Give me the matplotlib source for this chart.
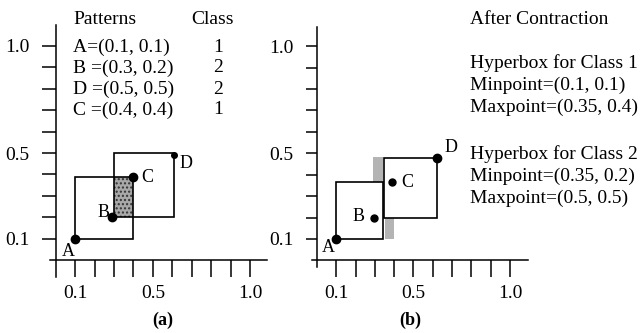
import matplotlib.pyplot as plt
from matplotlib.patches import Rectangle

plt.rcParams['font.family'] = ['Liberation Serif', 'DejaVu Serif']

# patterns table (panel a)
pattern_rows = ["A=(0.1, 0.1)", "B =(0.3, 0.2)", "D =(0.5, 0.5)", "C =(0.4, 0.4)"]
pattern_class = ["1", "2", "2", "1"]

# points as drawn in the sketch
names = ["A", "B", "C", "D"]
pts_a = [(0.1, 0.1), (0.29, 0.2), (0.4, 0.39), (0.61, 0.49)]
pts_b = [(0.1, 0.1), (0.297, 0.2), (0.39, 0.364), (0.62, 0.477)]

# hyperboxes (xmin, ymin, xmax, ymax)
boxes_a = [(0.1, 0.1, 0.4, 0.39), (0.3, 0.2, 0.61, 0.5)]
overlap_a = (0.3, 0.2, 0.4, 0.39)
boxes_b = [(0.1, 0.1, 0.344, 0.364), (0.347, 0.2, 0.62, 0.48)]
removed_b = [(0.292, 0.365, 0.341, 0.482), (0.35, 0.1, 0.40, 0.2)]

ticks = [0.1, 0.2, 0.3, 0.4, 0.5, 0.6, 0.7, 0.8, 0.9, 1.0]
tick_labels = ["0.1", "", "", "", "0.5", "", "", "", "", "1.0"]

info_lines = ["After Contraction", "Hyperbox for Class 1", "Minpoint=(0.1, 0.1)",
              "Maxpoint=(0.35, 0.4)", "Hyperbox for Class 2", "Minpoint=(0.35, 0.2)",
              "Maxpoint=(0.5, 0.5)"]
info_y = [20, 63, 85, 107, 154, 176, 198]

W, H = 640, 333
fig = plt.figure(figsize=(6.4, 3.33), dpi=100)
FS = 14


def px_rect(l, r, t, b):
    return [l / W, (H - b) / H, (r - l) / W, (b - t) / H]


def setup(ax, xlim, ylim, ylen):
    ax.set_xlim(*xlim)
    ax.set_ylim(*ylim)
    for s in ["top", "right"]:
        ax.spines[s].set_visible(False)
    for s in ["left", "bottom"]:
        ax.spines[s].set_position(("data", 0))
        ax.spines[s].set_linewidth(1.1)
    ax.set_xticks(ticks, tick_labels)
    ax.set_yticks(ticks, tick_labels)
    ax.tick_params(axis="x", direction="out", length=12, width=1.1, pad=6, labelsize=FS)
    ax.tick_params(axis="y", direction="out", length=ylen, width=1.1, pad=9, labelsize=FS)
    ax.patch.set_visible(False)


ax1 = fig.add_axes(px_rect(50, 267, 25, 277))
setup(ax1, (-0.030, 1.088), (-0.079, 1.098), 10)
ax2 = fig.add_axes(px_rect(311.7, 528, 27, 267))
setup(ax2, (-0.027, 1.093), (-0.031, 1.09), 8)

# panel a
ax1.add_patch(Rectangle((overlap_a[0], overlap_a[1]), overlap_a[2] - overlap_a[0],
                        overlap_a[3] - overlap_a[1], facecolor="#a8a8a8",
                        edgecolor="#333333", hatch="....", lw=0))
for x0, y0, x1, y1 in boxes_a:
    ax1.add_patch(Rectangle((x0, y0), x1 - x0, y1 - y0, fill=False, lw=1.2, ec="black"))
ms_a = [6, 6, 6, 4]
off_a = [(-5, -9.5), (-6.5, 3.5), (10, -1), (8.6, -5.8)]
for n, (x, y), m, o in zip(names, pts_a, ms_a, off_a):
    ax1.plot(x, y, "o", color="black", ms=m)
    ax1.annotate(n, (x, y), xytext=o, textcoords="offset points",
                 ha="center", va="center", fontsize=13)

# panel b
for x0, y0, x1, y1 in removed_b:
    ax2.add_patch(Rectangle((x0, y0), x1 - x0, y1 - y0, facecolor="#b4b4b4", lw=0))
for x0, y0, x1, y1 in boxes_b:
    ax2.add_patch(Rectangle((x0, y0), x1 - x0, y1 - y0, fill=False, lw=1.2, ec="black"))
ms_b = [6, 5, 5, 6]
off_b = [(-5.5, -6.5), (-11, 1), (10.5, 0), (10, 7.4)]
for n, (x, y), m, o in zip(names, pts_b, ms_b, off_b):
    ax2.plot(x, y, "o", color="black", ms=m)
    ax2.annotate(n, (x, y), xytext=o, textcoords="offset points",
                 ha="center", va="center", fontsize=13)

# patterns table
fig.text(73 / W, 1 - 20 / H, "Patterns", ha="left", va="center", fontsize=FS)
fig.text(213 / W, 1 - 20 / H, "Class", ha="center", va="center", fontsize=FS)
for i, (row, c) in enumerate(zip(pattern_rows, pattern_class)):
    yy = 1 - [47, 68, 89, 110][i] / H
    fig.text(73 / W, yy, row, ha="left", va="center", fontsize=FS)
    fig.text(218 / W, yy, c, ha="center", va="center", fontsize=FS)

for s, yy in zip(info_lines, info_y):
    fig.text(470 / W, 1 - yy / H, s, ha="left", va="center", fontsize=FS)

fig.text(163 / W, 1 - 320 / H, "(a)", ha="center", va="center", fontsize=13, fontweight="bold")
fig.text(410 / W, 1 - 320 / H, "(b)", ha="center", va="center", fontsize=13, fontweight="bold")

fig.savefig("out.png", dpi=100)
